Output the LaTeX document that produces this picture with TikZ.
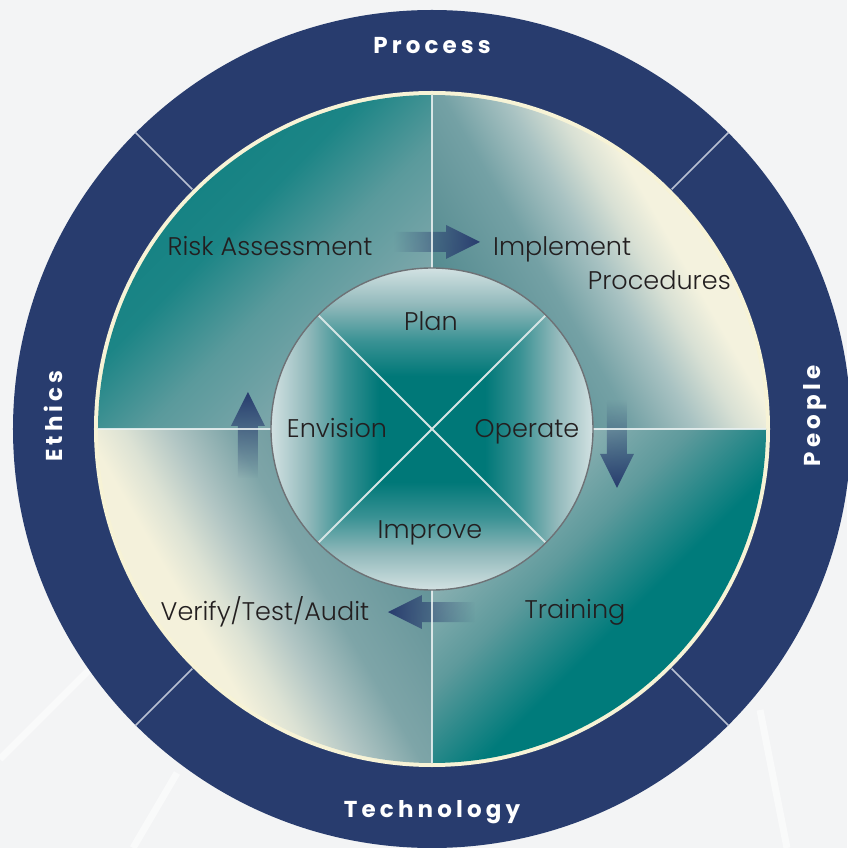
\documentclass[tikz,border=0pt]{standalone}
\usepackage{fontspec}
\setmainfont{Poppins}[UprightFont={* Light}, BoldFont={* SemiBold}]
\newfontfamily\bandfont{Poppins}[LetterSpace=18, UprightFont={* Bold}]
\usetikzlibrary{fadings}

\definecolor{navy}{HTML}{283C6E}
\definecolor{cream}{HTML}{F7F3D6}
\definecolor{ink}{HTML}{231F20}
\definecolor{paper}{HTML}{F3F4F5}
\definecolor{divline}{HTML}{EEF4F4}
\definecolor{bandline}{HTML}{B8C0D2}
\definecolor{rimgray}{HTML}{6E7276}
\definecolor{hubline}{HTML}{D4E4E4}

% quadrant colours
\definecolor{tlA}{HTML}{8FADB2}\definecolor{tlB}{HTML}{5A9A9C}\definecolor{tlC}{HTML}{1C8586}\definecolor{tlD}{HTML}{0E7F80}
\definecolor{trA}{HTML}{4F878C}\definecolor{trB}{HTML}{74A1A5}\definecolor{trC}{HTML}{A8C2C2}\definecolor{trD}{HTML}{D8E0D4}\definecolor{trE}{HTML}{F4F2DE}
\definecolor{blA}{HTML}{5F9196}\definecolor{blB}{HTML}{7EA5A8}\definecolor{blC}{HTML}{B2C6C4}\definecolor{blD}{HTML}{DCE2D4}\definecolor{blE}{HTML}{F4F1DB}
\definecolor{brA}{HTML}{A5BDBF}\definecolor{brB}{HTML}{5E9A9C}\definecolor{brC}{HTML}{007B7B}\definecolor{brD}{HTML}{007A7A}
% hub colours
\definecolor{hubA}{HTML}{007878}\definecolor{hubB}{HTML}{3A9294}\definecolor{hubC}{HTML}{90B8BA}\definecolor{hubD}{HTML}{EEF3F3}

% quadrant shadings: bottom (25bp) = hub side, top (75bp) = rim side
\pgfdeclareverticalshading{qtl}{100bp}{color(0bp)=(tlA); color(25bp)=(tlA);
  color(45bp)=(tlB); color(57bp)=(tlC); color(75bp)=(tlD); color(100bp)=(tlD)}
\pgfdeclareverticalshading{qtr}{100bp}{color(0bp)=(trA); color(25bp)=(trA);
  color(42bp)=(trB); color(50bp)=(trC); color(56bp)=(trD); color(61bp)=(trE); color(100bp)=(trE)}
\pgfdeclareverticalshading{qbl}{100bp}{color(0bp)=(blA); color(25bp)=(blA);
  color(42bp)=(blB); color(50bp)=(blC); color(56bp)=(blD); color(61bp)=(blE); color(100bp)=(blE)}
\pgfdeclareverticalshading{qbr}{100bp}{color(0bp)=(brA); color(25bp)=(brA);
  color(42bp)=(brB); color(55bp)=(brC); color(75bp)=(brD); color(100bp)=(brD)}

% hub sectors: one shading per side, centre teal, rim pale
\pgfdeclareverticalshading{capup}{100bp}{color(0bp)=(hubA); color(40bp)=(hubA);
  color(50bp)=(hubB); color(60bp)=(hubC); color(75bp)=(hubD); color(100bp)=(hubD)}
\pgfdeclareverticalshading{capdown}{100bp}{color(0bp)=(hubD); color(25bp)=(hubD);
  color(40bp)=(hubC); color(50bp)=(hubB); color(60bp)=(hubA); color(100bp)=(hubA)}
\pgfdeclarehorizontalshading{capright}{100bp}{color(0bp)=(hubA); color(40bp)=(hubA);
  color(50bp)=(hubB); color(60bp)=(hubC); color(75bp)=(hubD); color(100bp)=(hubD)}
\pgfdeclarehorizontalshading{capleft}{100bp}{color(0bp)=(hubD); color(25bp)=(hubD);
  color(40bp)=(hubC); color(50bp)=(hubB); color(60bp)=(hubA); color(100bp)=(hubA)}

\tikzfading[name=tailfade, left color=transparent!100, middle color=transparent!10, right color=transparent!0]

% block arrow: tip at (#1,#2), pointing at angle #3, overall length #4
\newcommand\blockarrow[4]{%
  \begin{scope}[shift={(#1,#2)}, rotate=#3]
    \fill[navy, path fading=tailfade, fading angle=#3]
      (-#4,10) -- (-34,10) -- (-34,17) -- (0,0) -- (-34,-17) -- (-34,-10) -- (-#4,-10) -- cycle
      (-#4/2,#4/2) (-#4/2,-#4/2);
  \end{scope}}

% hub sector between angles #1 and #2, shaded with #3
\newcommand\hubsector[3]{%
  \shade[shading=#3] (0,0) -- (#1:161) arc[start angle=#1, end angle=#2, radius=161] -- cycle;}

\tikzset{
  lbl/.style={font=\fontsize{25.5}{30}\selectfont, text=ink, inner sep=0pt},
  bandlbl/.style={font=\bandfont\fontsize{23}{27}\selectfont, text=white, inner sep=0pt},
}

\begin{document}
\begin{tikzpicture}[x=1pt, y=1pt]
  % page and backdrop
  \fill[paper] (-432,-419) rectangle (415,429);
  \useasboundingbox (-432,-419) rectangle (415,429);
  \draw[white, line width=7, opacity=0.55] (-432,-330) -- (-330,-228);
  \draw[white, line width=7, opacity=0.55] (-299,-419) -- (-255,-344);
  \draw[white, line width=7, opacity=0.55] (328,-281) -- (355,-419);

  % outer band
  \fill[navy] (0,0) circle[radius=419];
  \fill[cream] (0,0) circle[radius=338];
  \foreach \a in {45,135,225,315}
    \draw[bandline, line width=1.5] (\a:339) -- (\a:419);

  % four quadrants
  \shade[shading=qtl, shading angle=45]  (0,0) -- (90:334) arc[start angle=90, end angle=180, radius=334] -- cycle;
  \shade[shading=qtr, shading angle=-60] (0,0) -- (0:334) arc[start angle=0, end angle=90, radius=334] -- cycle;
  \shade[shading=qbl, shading angle=120] (0,0) -- (180:334) arc[start angle=180, end angle=270, radius=334] -- cycle;
  \shade[shading=qbr, shading angle=-135] (0,0) -- (270:334) arc[start angle=270, end angle=360, radius=334] -- cycle;

  % flow arrows
  \blockarrow{48}{187}{0}{86}
  \blockarrow{185}{-59}{-90}{88}
  \blockarrow{-44}{-183}{180}{87}
  \blockarrow{-184}{37}{90}{86}

  % quadrant dividers
  \draw[divline, line width=2.5, opacity=0.85] (0,-334) -- (0,334);
  \draw[divline, line width=2.5, opacity=0.85] (-334,0) -- (334,0);

  % hub
  \hubsector{45}{135}{capup}
  \hubsector{135}{225}{capleft}
  \hubsector{225}{315}{capdown}
  \hubsector{-45}{45}{capright}
  \draw[hubline, line width=1.8] (45:161) -- (225:161) (135:161) -- (315:161);
  \draw[rimgray, line width=1.4] (0,0) circle[radius=161];

  % band labels
  \node[bandlbl, anchor=base] (process) at (0,375) {Process};
  \node[bandlbl, anchor=base] (technology) at (0,-388) {Technology};
  \node[bandlbl, anchor=base, rotate=90] (ethics) at (-369,13) {Ethics};
  \node[bandlbl, anchor=base, rotate=90] (people) at (388,13) {People};

  % step labels
  \node[lbl, anchor=base] (risk) at (-162,173) {Risk Assessment};
  \node[lbl, anchor=base west] (implement) at (61,173) {Implement};
  \node[lbl, anchor=base east] (procedures) at (299,139) {Procedures};
  \node[lbl, anchor=base] (training) at (143,-189) {Training};
  \node[lbl, anchor=base] (verify) at (-167,-191) {Verify/Test/Audit};

  % hub labels
  \node[lbl, anchor=base] (plan) at (-1,98) {Plan};
  \node[lbl, anchor=base] (envision) at (-95,-9) {Envision};
  \node[lbl, anchor=base] (operate) at (95,-9) {Operate};
  \node[lbl, anchor=base] (improve) at (-2,-110) {Improve};
\end{tikzpicture}
\end{document}
